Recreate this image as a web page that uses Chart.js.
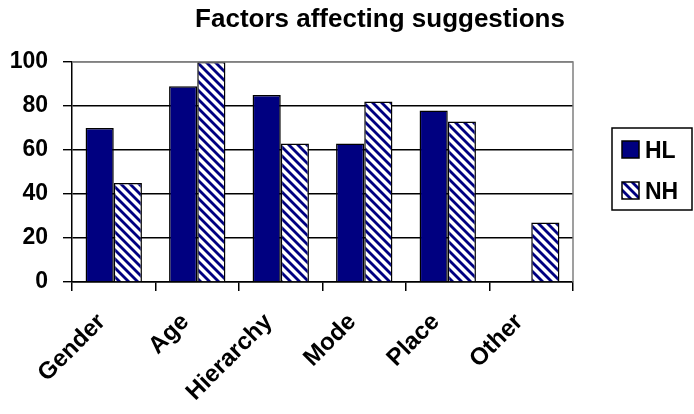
<!DOCTYPE html>
<html>
<head>
<meta charset="utf-8">
<script src="https://cdn.jsdelivr.net/npm/chart.js@4.4.1/dist/chart.umd.min.js"></script>
<style>
  body { margin: 0; background: #fff; }
  canvas { display: block; }
</style>
</head>
<body>
<canvas id="chart" width="694" height="414"></canvas>
<script>
const titleText = "Factors affecting suggestions";
const categories = ["Gender", "Age", "Hierarchy", "Mode", "Place", "Other"];
const hlValues = [70, 89, 85, 63, 78, 0];
const nhValues = [45, 100, 63, 82, 73, 27];
const seriesNames = ["HL", "NH"];

const NAVY = "#000080";
const FONT = '"Liberation Sans", Arial, sans-serif';

function makeHatch() {
  const s = 9;
  const c = document.createElement("canvas");
  c.width = s;
  c.height = s;
  const g = c.getContext("2d");
  g.fillStyle = "#fff";
  g.fillRect(0, 0, s, s);
  g.strokeStyle = NAVY;
  g.lineWidth = 2.8;
  for (const k of [-s, 0, s]) {
    g.beginPath();
    g.moveTo(-2, -2 + k);
    g.lineTo(s + 2, s + 2 + k);
    g.stroke();
  }
  return g.createPattern(c, "repeat");
}

const hatch = makeHatch();

// plot frame, title and boxed legend
const extras = {
  id: "extras",
  afterDraw(chart) {
    const ctx = chart.ctx;
    const a = chart.chartArea;
    ctx.save();
    ctx.strokeStyle = "#808080";
    ctx.lineWidth = 1.5;
    ctx.beginPath();
    ctx.moveTo(a.left, a.top);
    ctx.lineTo(a.right, a.top);
    ctx.lineTo(a.right, a.bottom);
    ctx.stroke();

    ctx.fillStyle = "#000";
    ctx.font = "bold 26px " + FONT;
    ctx.textAlign = "center";
    ctx.textBaseline = "alphabetic";
    ctx.fillText(titleText, 380, 27);

    // legend
    ctx.strokeStyle = "#000";
    ctx.lineWidth = 1.5;
    ctx.strokeRect(612, 128, 80, 82);
    ctx.font = "bold 23px " + FONT;
    ctx.textAlign = "left";
    chart.data.datasets.forEach((ds, i) => {
      const y = 141 + i * 41;
      ctx.fillStyle = ds.backgroundColor;
      ctx.fillRect(622, y, 17, 17);
      ctx.strokeStyle = "#000";
      ctx.lineWidth = 1.5;
      ctx.strokeRect(622, y, 17, 17);
      ctx.fillStyle = "#000";
      ctx.fillText(ds.label, 645, y + 17);
    });
    ctx.restore();
  }
};

new Chart(document.getElementById("chart"), {
  type: "bar",
  data: {
    labels: categories,
    datasets: [
      {
        label: seriesNames[0],
        data: hlValues,
        backgroundColor: NAVY,
        borderColor: "#000",
        borderWidth: 1.5,
        categoryPercentage: 0.675,
        barPercentage: 1
      },
      {
        label: seriesNames[1],
        data: nhValues,
        backgroundColor: hatch,
        borderColor: "#000",
        borderWidth: 1.5,
        categoryPercentage: 0.675,
        barPercentage: 1
      }
    ]
  },
  options: {
    responsive: false,
    animation: false,
    layout: { padding: { top: 62, right: 121, left: 0, bottom: 0 } },
    plugins: {
      legend: { display: false },
      title: { display: false },
      tooltip: { enabled: false }
    },
    scales: {
      x: {
        offset: true,
        grid: {
          offset: true,
          drawOnChartArea: false,
          color: "#000",
          tickLength: 9,
          lineWidth: 1.5
        },
        border: { color: "#000", width: 1.5 },
        ticks: {
          color: "#000",
          font: { family: FONT, size: 24, weight: "bold" },
          minRotation: 45,
          maxRotation: 45,
          padding: 17,
          labelOffset: -12
        },
        afterFit(scale) { scale.height = 132; }
      },
      y: {
        min: 0,
        max: 100,
        ticks: {
          stepSize: 20,
          color: "#000",
          font: { family: FONT, size: 23, weight: "bold" },
          padding: 15
        },
        grid: {
          color: (c) => (c.tick && c.tick.value === 100 ? "#808080" : "#000"),
          tickColor: "#000",
          tickLength: 9,
          lineWidth: 1.4
        },
        border: { color: "#000", width: 1.5 },
        afterFit(scale) { scale.width = 72; }
      }
    }
  },
  plugins: [extras]
});
</script>
</body>
</html>
